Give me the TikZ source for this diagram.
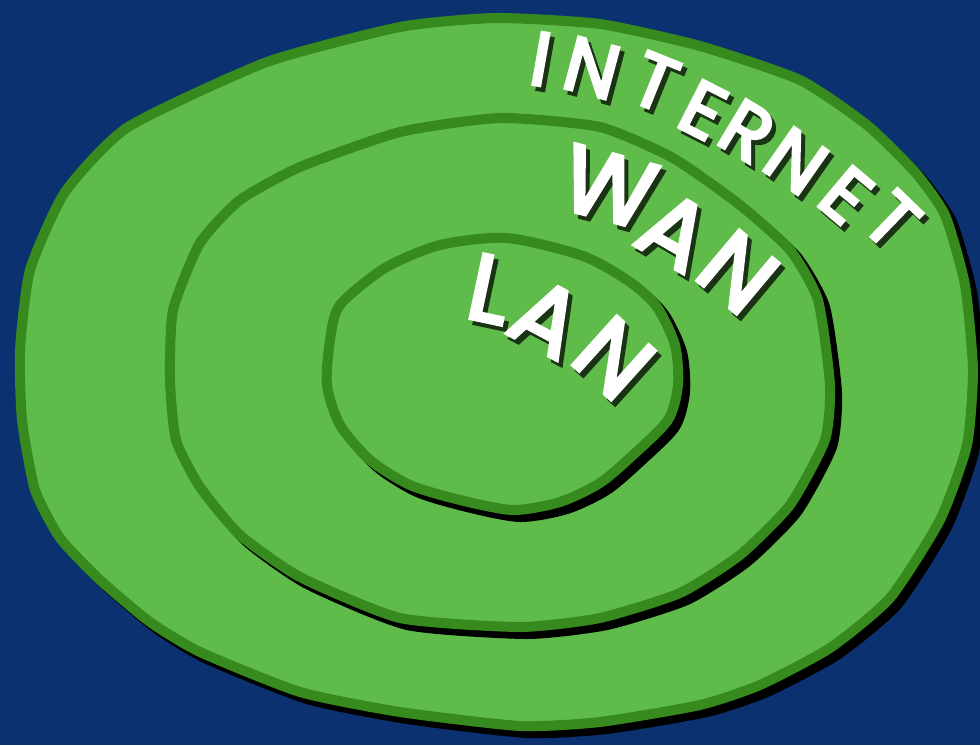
\documentclass[tikz,border=0pt]{standalone}
\usepackage{fontspec}
\setmainfont{Poppins}
\newfontfamily\tagfont{Poppins}[FakeBold=4]
\definecolor{sky}{HTML}{0B3170}
\definecolor{grass}{HTML}{5FBC4A}
\definecolor{grassedge}{HTML}{368A1E}
\definecolor{inkshade}{HTML}{1A3314}
\tikzset{
  ring/.style={fill=grass, draw=grassedge, line width=10pt, line join=round,
    preaction={fill=black, draw=black, line width=10pt,
      transform canvas={shift={(7pt,-7pt)}}}},
  glyph/.style={inner sep=0pt, font=\tagfont\fontsize{#1}{#1}\selectfont},
  glyphshade/.style={glyph=#1, text=inkshade},
  glyphtext/.style={glyph=#1, text=white}
}
\begin{document}
\begin{tikzpicture}[x=1pt, y=-1pt]
\useasboundingbox (0,0) rectangle (980,745);
\fill[sky] (0,0) rectangle (980,745);
% internet
\draw[ring] plot[smooth cycle, tension=0.35] coordinates {(65,192) (128,127) (267,62) (400,27) (495,18) (600,24) (700,46) (800,80) (867,125) (915,172) (945,215) (965,285) (973,370) (967,445) (940,520) (890,598) (830,648) (760,685) (700,705) (600,722) (520,726) (400,712) (300,692) (200,652) (150,622) (100,580) (60,538) (35,490) (22,420) (20,350) (30,270)};
% wan
\draw[ring] plot[smooth cycle, tension=0.35] coordinates {(200,243) (240,200) (300,167) (400,132) (500,118) (600,127) (673,158) (740,205) (790,250) (818,300) (830,385) (825,440) (790,505) (740,555) (680,593) (600,618) (520,627) (400,618) (300,577) (240,535) (200,487) (176,440) (170,380) (173,310)};
% lan
\draw[ring] plot[smooth cycle, tension=0.45] coordinates {(340,305) (385,268) (440,245) (507,238) (583,256) (630,282) (657,307) (675,345) (678,385) (668,420) (633,455) (600,483) (560,502) (513,510) (460,500) (410,485) (370,460) (340,425) (327,385) (330,340)};
% labels, one letter at a time
\foreach \ch/\cx/\cy/\ang [count=\k] in {I/541/59/10, N/592/68/15, T/655/82/22, E/703/110/27, R/747/131/31, N/796/161/35, E/846/195/40, T/892/220/44}{
  \node[glyphshade=76, rotate=-\ang] (inet-s\k) at (\cx+4,\cy+5) {\ch};
  \node[glyphtext=76, rotate=-\ang] (inet-\k) at (\cx,\cy) {\ch};
}
\foreach \ch/\cx/\cy/\ang [count=\k] in {W/609/187/15, A/675/231/30, N/738/272/40}{
  \node[glyphshade=94, rotate=-\ang] (wan-s\k) at (\cx+4,\cy+5) {\ch};
  \node[glyphtext=94, rotate=-\ang] (wan-\k) at (\cx,\cy) {\ch};
}
\foreach \ch/\cx/\cy/\ang [count=\k] in {L/490/289/12, A/547/318/28, N/614/358/42}{
  \node[glyphshade=94, rotate=-\ang] (lan-s\k) at (\cx+4,\cy+5) {\ch};
  \node[glyphtext=94, rotate=-\ang] (lan-\k) at (\cx,\cy) {\ch};
}
\end{tikzpicture}
\end{document}
